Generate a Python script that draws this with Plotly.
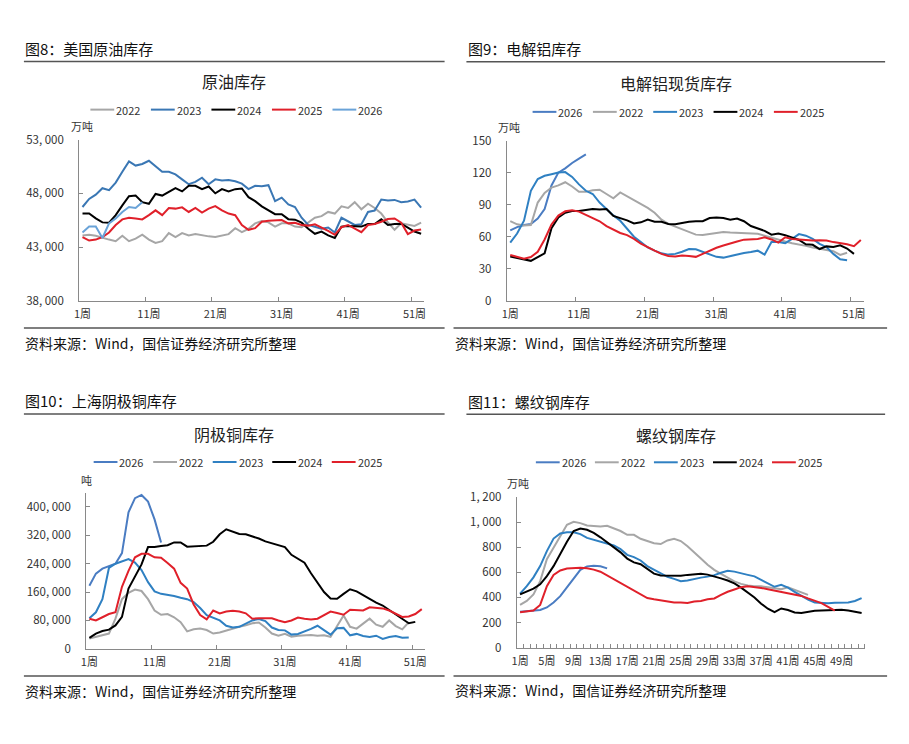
import plotly.graph_objects as go

# The page adds an 8 px body margin; the figure fills the rest of the 909x744 window.
PAGE_W, PAGE_H, PAD = 909, 744, 8
W, H = PAGE_W - 2 * PAD, PAGE_H - 2 * PAD
FONT = "Noto Sans CJK SC"
AXC = "#898989"
TXT = "#333333"


def X(px):
    return (px - PAD) / W


def Y(py):
    return 1 - (py - PAD) / H


# ---------------- data ----------------
weeks_label_main = ["1周", "11周", "21周", "31周", "41周", "51周"]
weeks_label_rebar = ["1周", "5周", "9周", "13周", "17周", "21周", "25周",
                     "29周", "33周", "37周", "41周", "45周", "49周"]

# 图8 美国原油库存 (万吨)
oil_2022 = [44090, 44150, 44060, 43850, 43700, 43550, 44060, 43550, 43790, 44150,
            43700, 43390, 43550, 44300, 43940, 44300, 44090, 44210, 44090, 44000,
            43940, 44060, 44210, 44760, 44390, 44700, 45210, 45420, 45300, 44910,
            45210, 45210, 44910, 44850, 45270, 45730, 45880, 46270, 46120, 46790,
            46640, 47180, 46520, 47030, 46640, 46120, 45300, 44610, 45210, 45060,
            44970, 45270]
oil_2023 = [46730, 47480, 47880, 48480, 48300, 49000, 50000, 50970, 50580, 50730,
            51030, 50520, 50000, 50000, 49760, 49300, 48850, 49060, 49450, 48850,
            49300, 49200, 49240, 49120, 48900, 48400, 48700, 48670, 48760, 47270,
            47600, 46970, 46730, 45730, 45060, 44900, 44700, 44820, 44360, 45730,
            45360, 45060, 45120, 46270, 46400, 47420, 47330, 47390, 47180, 47240,
            47420, 46670]
oil_2024 = [46120, 46120, 45670, 45300, 45270, 45970, 46880, 47730, 47790, 47180,
            47030, 47940, 47790, 48150, 48480, 48180, 48700, 48700, 48390, 48640,
            48000, 48390, 48180, 48390, 48450, 47640, 47270, 46790, 46420, 46060,
            46060, 45600, 45550, 45270, 44700, 44240, 44450, 44090, 43850, 44910,
            44970, 44910, 44910, 45150, 45150, 45580, 45060, 45150, 45180, 44820,
            44450, 44240]
oil_2025 = [43940, 43610, 43700, 43940, 44360, 45060, 45580, 45730, 45670, 45580,
            45970, 46420, 45970, 46640, 46580, 46700, 46270, 46640, 46210, 46580,
            46820, 46420, 46120, 45970, 45060, 44610, 44760, 45360, 45450, 45450,
            45520, 45210, 45270, 45060, 45000, 45120, 44850, 44520, 44150, 44850,
            45060, 44760, 44390, 45060, 45150, 45360, 45610, 45670, 45270, 44210,
            44540, 44640]
oil_2026 = [44360, 44910, 44910, 43850, 45210, 45670, 46270, 46730, 46640, 47180]

# 图9 电解铝现货库存 (万吨)
al_2026 = [66, 69, 71, 72, 77, 86, 108, 120, 124, 129, 133, 137]
al_2022 = [74.6, 71.6, 70.5, 71, 92, 101, 106, 108, 111, 107,
           102, 102, 103.5, 104, 100, 96, 101.5, 98, 94.5, 91,
           87, 82.5, 76, 72, 69.5, 67, 64, 62, 61.6, 62.5,
           64, 64.5, 64, 63.6, 63.4, 63.2, 62.8, 61, 59, 57,
           55.5, 54, 53, 51.5, 50, 48.7, 47.8, 46.5, 43, 45]
al_2023 = [54.5, 63, 75, 103, 114, 117, 118.5, 120, 120.5, 116,
           109, 103, 100, 92, 86, 80, 75, 67, 60, 55,
           50, 47, 44.5, 43.3, 44, 46, 48.5, 48.3, 46, 43.6,
           41.2, 40.5, 42, 43.3, 44.8, 45.7, 47, 43.3, 55, 55,
           54, 58, 62.5, 61, 58, 53.4, 50.3, 44, 39, 38]
al_2024 = [41.5, 40, 38.5, 37.5, 41, 44.5, 68, 78, 82.5, 84,
           84, 85, 86, 85.5, 86, 79.5, 77.7, 75.3, 72.5, 73.5,
           76, 74, 74, 72, 71.6, 73, 74, 74.5, 74.5, 77.5,
           78, 77.5, 76, 77, 74.5, 70, 68, 65.5, 62, 63,
           61.5, 59.5, 57, 53, 52.5, 48.5, 51, 50.5, 52, 49,
           44]
al_2025 = [43, 41, 39.5, 41, 46, 57.5, 71.5, 79.8, 83.8, 84.7,
           83.5, 80.5, 77.5, 74.5, 70, 66.5, 63.5, 61.5, 58, 53.5,
           50, 47, 44, 42, 41.5, 42.5, 42, 41.2, 44, 47,
           49.7, 51.8, 54, 55.5, 57.3, 57.9, 57.9, 59.5, 57.5, 54.5,
           59.5, 58, 57.3, 56.5, 56.5, 56.8, 56.4, 55, 54, 53,
           51.2, 57]

# 图10 阴极铜库存 (吨)
cu_2026 = [178000, 212000, 226000, 232000, 240000, 270000, 385000, 425000, 434000, 415000,
           365000, 300000]
cu_2022 = [29000, 34000, 39000, 43000, 85000, 140000, 158000, 167000, 163000, 140000,
           108000, 96000, 98000, 89000, 75000, 49000, 55000, 57000, 53000, 43000,
           46000, 52000, 57000, 62000, 66000, 72000, 74000, 60000, 43000, 37000,
           42000, 34000, 37000, 39000, 39000, 37000, 38000, 34000, 66000, 94000,
           62000, 57000, 71000, 85000, 68000, 62000, 80000, 64000, 55000, 75000]
cu_2023 = [86000, 103000, 140000, 228000, 240000, 247000, 253000, 243000, 222000, 188000,
           162000, 155000, 153000, 149000, 144000, 140000, 132000, 115000, 95000, 88000,
           80000, 65000, 60000, 62000, 72000, 80000, 84000, 78000, 60000, 53000,
           52000, 40000, 42000, 48000, 56000, 65000, 52000, 40000, 58000, 59000,
           38000, 42000, 36000, 33000, 37000, 28000, 33000, 36000, 31000, 32000]
cu_2024 = [31000, 43000, 50000, 54000, 66000, 90000, 170000, 205000, 238000, 287000,
           287000, 290000, 292000, 300000, 300000, 288000, 289000, 290000, 291000, 302000,
           323000, 337000, 331000, 324000, 323000, 318000, 311000, 303000, 297000, 292000,
           287000, 265000, 253000, 243000, 213000, 185000, 160000, 142000, 141000, 155000,
           168000, 162000, 151000, 140000, 130000, 122000, 110000, 96000, 85000, 72000,
           76000]
cu_2025 = [85000, 80000, 89000, 98000, 103000, 175000, 220000, 258000, 268000, 268000,
           258000, 257000, 242000, 226000, 186000, 170000, 125000, 95000, 83000, 108000,
           100000, 105000, 107000, 105000, 100000, 85000, 86000, 85000, 86000, 80000,
           75000, 80000, 88000, 85000, 83000, 85000, 95000, 105000, 101000, 96000,
           110000, 110000, 108000, 117000, 115000, 114000, 108000, 98000, 90000, 91000,
           98000, 112000]

# 图11 螺纹钢库存 (万吨)
rb_2026 = [285, 290, 292, 300, 320, 360, 410, 480, 555, 620, 648, 652, 648, 632]
rb_2022 = [340, 372, 424, 530, 705, 800, 895, 980, 1003, 993,
           975, 968, 967, 972, 950, 930, 900, 900, 868, 850,
           832, 826, 855, 868, 850, 808, 763, 711, 660, 620,
           588, 555, 528, 508, 495, 489, 489, 482, 471, 465,
           480, 458, 440, 420]
rb_2023 = [430, 490, 560, 650, 770, 870, 910, 920, 920, 905,
           875, 860, 845, 825, 815, 785, 740, 722, 695, 650,
           622, 590, 565, 548, 530, 535, 548, 558, 566, 578,
           597, 612, 606, 590, 580, 568, 540, 512, 485, 500,
           478, 445, 413, 382, 360, 354, 354, 357, 358, 360,
           372, 395]
rb_2024 = [424, 445, 470, 505, 570, 650, 750, 845, 930, 950,
           940, 915, 880, 840, 800, 760, 710, 680, 665, 630,
           590, 575, 573, 573, 573, 580, 586, 588, 582, 570,
           552, 535, 512, 478, 440, 400, 350, 310, 283, 312,
           300, 280, 276, 285, 293, 295, 297, 300, 302, 295,
           283, 276]
rb_2025 = [281, 288, 295, 340, 490, 580, 615, 630, 636, 637,
           632, 622, 605, 575, 540, 510, 480, 450, 420, 395,
           385, 375, 365, 360, 360, 356, 368, 372, 385, 392,
           420, 445, 463, 482, 489, 484, 476, 465, 455, 440,
           432, 424, 412, 392, 375, 355, 325, 295]

# ---------------- styling ----------------
C22 = "#A6A6A6"
C24 = "#000000"
C25 = "#E0202A"
C23a = "#3A77B4"   # panel 1 2023
C26a = "#6AA3D8"   # panel 1 2026
C26 = "#4A7CC2"
C23 = "#2F80C2"


def fmt(v):
    return f"{v:,}".replace(",", ", ")


panels = [
    dict(key=1, series=[("2022", oil_2022, C22), ("2023", oil_2023, C23a),
                        ("2024", oil_2024, C24), ("2025", oil_2025, C25),
                        ("2026", oil_2026, C26a)],
         xd=(74.7, 422.7), yd=(133.3, 298.3), yr=(38000, 53000),
         yt=[38000, 43000, 48000, 53000], legend=(86, 102.7, 61),
         header=("图8：美国原油库存", 19, 40), title=("原油库存", 231, 73),
         unit=("万吨", 77.5, 119), rule_top=(19, 443, 53.5),
         rule_bot=(19, 443, 326), src=(19, 341.7)),
    dict(key=2, series=[("2026", al_2026, C26), ("2022", al_2022, C22),
                        ("2023", al_2023, C23), ("2024", al_2024, C24),
                        ("2025", al_2025, C25)],
         xd=(505.7, 866), yd=(134.3, 298.3), yr=(0, 150),
         yt=[0, 30, 60, 90, 120, 150], legend=(531.7, 105, 60.8),
         header=("图9：电解铝库存", 466, 40), title=("电解铝现货库存", 676, 75),
         unit=("万吨", 508, 120), rule_top=(465, 887, 53.7),
         rule_bot=(452, 889, 326), src=(452, 341.7)),
    dict(key=3, series=[("2026", cu_2026, C26), ("2022", cu_2022, C22),
                        ("2023", cu_2023, C23), ("2024", cu_2024, C24),
                        ("2025", cu_2025, C25)],
         xd=(81.7, 423.3), yd=(494.5, 654), yr=(0, 440000),
         yt=[0, 80000, 160000, 240000, 320000, 400000], legend=(89.3, 463, 60),
         header=("图10：上海阴极铜库存", 19, 400), title=("阴极铜库存", 231, 434.3),
         unit=("吨", 82, 481.7), rule_top=(19, 443, 414),
         rule_bot=(19, 443, 681.7), src=(19, 696.7)),
    dict(key=4, series=[("2026", rb_2026, C26), ("2022", rb_2022, C22),
                        ("2023", rb_2023, C23), ("2024", rb_2024, C24),
                        ("2025", rb_2025, C25)],
         xd=(515.7, 866.7), yd=(499, 652.7), yr=(0, 1200),
         yt=[0, 200, 400, 600, 800, 1000, 1200], legend=(535, 463.3, 59.5),
         header=("图11：螺纹钢库存", 466, 400.7), title=("螺纹钢库存", 676, 435),
         unit=("万吨", 517, 484.3), rule_top=(465, 887, 414.3),
         rule_bot=(452, 889, 681.7), src=(452, 696)),
]

fig = go.Figure()
annotations = []
shapes = []
layout = {}

for p in panels:
    k = p["key"]
    sfx = "" if k == 1 else str(k)
    xname, yname = "x" + sfx, "y" + sfx
    for name, vals, col in p["series"]:
        fig.add_trace(go.Scatter(
            x=list(range(1, len(vals) + 1)), y=vals, name=name, mode="lines",
            line=dict(color=col, width=2), xaxis=xname, yaxis=yname,
            showlegend=False, hoverinfo="skip"))

    if k == 4:
        tv = list(range(1, 50, 4))
        tt = weeks_label_rebar
        minor_vals = [i + 0.5 for i in range(1, 53)]
    else:
        tv = [1, 11, 21, 31, 41, 51]
        tt = weeks_label_main
        minor_vals = [10.5, 20.5, 30.5, 40.5, 50.5]

    layout["xaxis" + sfx] = dict(
        domain=[X(p["xd"][0]), X(p["xd"][1])], range=[0.5, 52.5], anchor=yname,
        showline=True, linecolor=AXC, linewidth=1, mirror=False,
        tickmode="array", tickvals=tv, ticktext=tt, ticks="", ticklen=0,
        minor=dict(tickmode="array", tickvals=minor_vals, ticks="inside",
                   ticklen=4, tickcolor=AXC, tickwidth=1, showgrid=False),
        showgrid=False, zeroline=False, ticklabelstandoff=3,
        tickfont=dict(family=FONT, size=11, color=TXT), fixedrange=True)
    layout["yaxis" + sfx] = dict(
        domain=[Y(p["yd"][1]), Y(p["yd"][0])], range=list(p["yr"]), anchor=xname,
        showline=True, linecolor=AXC, linewidth=1,
        tickmode="array", tickvals=p["yt"], ticktext=[fmt(v) for v in p["yt"]],
        ticks="inside", ticklen=4, tickcolor=AXC,
        showgrid=False, zeroline=False, ticklabelstandoff=12,
        tickfont=dict(family=FONT, size=11.5, color=TXT), fixedrange=True)

    # legend row (swatch + label per series)
    lx0, ly, pitch = p["legend"]
    for i, (name, vals, col) in enumerate(p["series"]):
        sx0 = lx0 + i * pitch
        shapes.append(dict(type="line", xref="paper", yref="paper",
                           x0=X(sx0), x1=X(sx0 + 24), y0=Y(ly), y1=Y(ly),
                           line=dict(color=col, width=2)))
        annotations.append(dict(text=name, x=X(sx0 + 25), y=Y(ly), xref="paper",
                                yref="paper", xanchor="left", yanchor="middle",
                                showarrow=False, borderpad=0,
                                font=dict(family=FONT, size=11, color=TXT)))

    ht, hx, hy = p["header"]
    annotations.append(dict(text=ht, x=X(hx), y=Y(hy), xref="paper", yref="paper",
                            xanchor="left", yanchor="middle", showarrow=False,
                            borderpad=0,
                            font=dict(family=FONT, size=15, color="#111111")))
    tt_, tx, ty = p["title"]
    annotations.append(dict(text=tt_, x=X(tx), y=Y(ty), xref="paper", yref="paper",
                            xanchor="center", yanchor="middle", showarrow=False,
                            font=dict(family=FONT, size=16, color="#222222")))
    ut, ux, uy = p["unit"]
    annotations.append(dict(text=ut, x=X(ux), y=Y(uy), xref="paper", yref="paper",
                            xanchor="center", yanchor="middle", showarrow=False,
                            font=dict(family=FONT, size=11, color=TXT)))
    sx, sy = p["src"]
    annotations.append(dict(text="资料来源：Wind，国信证券经济研究所整理",
                            x=X(sx), y=Y(sy), xref="paper", yref="paper",
                            xanchor="left", yanchor="middle", showarrow=False,
                            borderpad=0,
                            font=dict(family=FONT, size=14, color="#111111")))
    for (x0, x1, yy) in (p["rule_top"], p["rule_bot"]):
        shapes.append(dict(type="line", xref="paper", yref="paper",
                           x0=X(x0), x1=X(x1), y0=Y(yy), y1=Y(yy),
                           line=dict(color="#555555", width=1.5)))

fig.update_layout(
    width=W, height=H, margin=dict(l=0, r=0, t=0, b=0),
    paper_bgcolor="white", plot_bgcolor="white",
    annotations=annotations, shapes=shapes, showlegend=False,
    font=dict(family=FONT, color=TXT), hovermode=False,
    **layout)

fig.write_html("out.html", config={"displayModeBar": False, "staticPlot": True})
